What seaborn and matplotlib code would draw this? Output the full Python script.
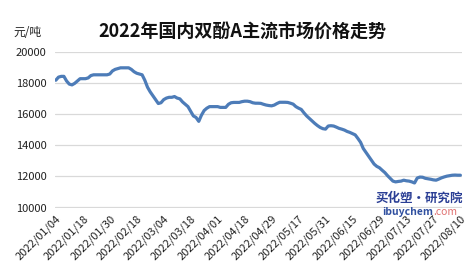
import matplotlib
matplotlib.use("Agg")
import matplotlib.pyplot as plt
import seaborn as sns
import pandas as pd

# ---- data ----
tick_labels = ["2022/01/04", "2022/01/18", "2022/01/30", "2022/02/18", "2022/03/04",
               "2022/03/18", "2022/04/01", "2022/04/18", "2022/04/29", "2022/05/17",
               "2022/05/31", "2022/06/15", "2022/06/29", "2022/07/13", "2022/07/27",
               "2022/08/10"]
tick_step = 10  # one label every 10 trading days

prices = [
    18200, 18400, 18450, 18450, 18150, 17950, 17900, 18000, 18150, 18300,
    18300, 18300, 18350, 18500, 18550, 18550, 18550, 18550, 18550, 18550,
    18600, 18800, 18900, 18950, 19000, 19000, 19000, 19000, 18900, 18750,
    18650, 18600, 18550, 18200, 17750, 17450, 17200, 16950, 16700, 16750,
    16950, 17050, 17100, 17100, 17150, 17050, 17000, 16800, 16650, 16500,
    16200, 15900, 15800, 15550, 15950, 16250, 16400, 16500, 16500, 16500,
    16500, 16450, 16450, 16450, 16650, 16750, 16770, 16770, 16770, 16820,
    16850, 16850, 16820, 16750, 16720, 16720, 16710, 16650, 16600, 16570,
    16550, 16600, 16700, 16780, 16780, 16780, 16770, 16720, 16660, 16500,
    16400, 16320, 16100, 15900, 15740, 15580, 15420, 15280, 15160, 15080,
    15050, 15250, 15270, 15250, 15180, 15100, 15050, 14990, 14900, 14840,
    14760, 14680, 14450, 14200, 13800, 13550, 13300, 13050, 12800, 12650,
    12560, 12400, 12250, 12050, 11870, 11700, 11650, 11680, 11700, 11760,
    11720, 11700, 11650, 11580, 11900, 11960, 11950, 11880, 11850, 11820,
    11780, 11760, 11830, 11910, 11970, 12020, 12050, 12080, 12090, 12080,
    12080,
]
y_ticks = [10000, 12000, 14000, 16000, 18000, 20000]

title = "2022年国内双酚A主流市场价格走势"
unit = "元/吨"

# ---- plotting ----
sns.set_theme(style="white")
plt.rcParams["font.family"] = ["Noto Sans CJK SC", "DejaVu Sans"]

df = pd.DataFrame({"idx": range(len(prices)), "price": prices})

fig = plt.figure(figsize=(4.73, 2.78), dpi=100)
ax = fig.add_axes([55 / 473, 1 - 207.5 / 278, 407 / 473, 155.2 / 278])

sns.lineplot(data=df, x="idx", y="price", ax=ax, color="#4d7cb8", linewidth=2.3)

ax.set_ylim(10000, 20000)
ax.set_xlim(-0.3, 150.6)
ax.set_yticks(y_ticks)
ax.set_yticklabels([str(v) for v in y_ticks], fontsize=8, color="#222222")
ax.set_xticks([i * tick_step for i in range(len(tick_labels))])
ax.set_xticklabels(tick_labels, rotation=45, ha="right", rotation_mode="anchor",
                   fontsize=8, color="#222222")
ax.tick_params(axis="both", length=0)
ax.tick_params(axis="y", pad=6)
ax.tick_params(axis="x", pad=4)
ax.set_xlabel("")
ax.set_ylabel("")
ax.yaxis.grid(True, color="#d9d9d9", linewidth=0.9)
ax.xaxis.grid(False)
for s in ax.spines.values():
    s.set_visible(False)

fig.text(242 / 473, 1 - 31 / 278, title, ha="center", va="center",
         fontsize=13, fontweight="bold", color="#111111")
fig.text(13 / 473, 1 - 33 / 278, unit, ha="left", va="center",
         fontsize=8.5, color="#222222")

# watermark
fig.text(463 / 473, 1 - 198 / 278, "买化塑·研究院", ha="right", va="center",
         fontsize=9, fontweight="bold", color="#2b3f95")
fig.canvas.draw()
t1 = fig.text(382 / 473, 1 - 212 / 278, "ibuychem", ha="left", va="center",
              fontsize=7.5, fontweight="bold", color="#3050a0")
r = fig.canvas.get_renderer()
bb = t1.get_window_extent(renderer=r)
fig.text(bb.x1 / fig.bbox.width, 1 - 212 / 278, ".com", ha="left", va="center",
         fontsize=7.5, color="#e07070")

fig.savefig("out.png", dpi=100)
